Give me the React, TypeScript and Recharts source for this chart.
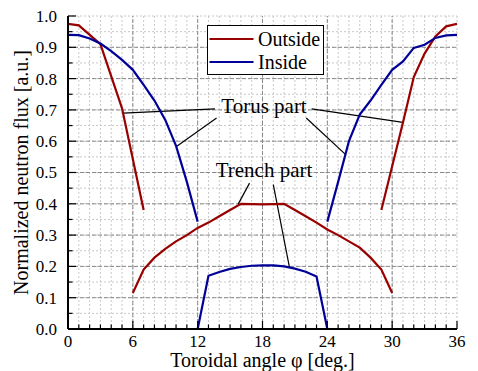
import React from 'react';
import { LineChart, Line, XAxis, YAxis, CartesianGrid, ReferenceLine } from 'recharts';

// angles in degrees, flux normalized
const outsideTorusLeftAngle = [0, 1, 3, 5, 7];
const outsideTorusLeftFlux = [0.975, 0.97, 0.91, 0.705, 0.38];
const outsideTorusRightAngle = [29, 31, 32, 33, 34, 35, 36];
const outsideTorusRightFlux = [0.38, 0.66, 0.805, 0.88, 0.935, 0.967, 0.975];
const outsideTrenchAngle = [6, 7, 8, 9, 10, 11, 12, 13, 14, 15, 16, 17, 18, 19, 20, 21, 22, 23, 24, 25, 26, 27, 28, 29, 30];
const outsideTrenchFlux = [0.115, 0.19, 0.228, 0.256, 0.28, 0.3, 0.323, 0.34, 0.36, 0.38, 0.4, 0.399, 0.398, 0.399, 0.4, 0.38, 0.36, 0.34, 0.318, 0.3, 0.28, 0.26, 0.228, 0.19, 0.115];

const insideTorusLeftAngle = [0, 1, 2, 3, 4, 5, 6, 7, 8, 9, 10, 11, 12];
const insideTorusLeftFlux = [0.94, 0.939, 0.928, 0.912, 0.888, 0.86, 0.828, 0.78, 0.73, 0.668, 0.585, 0.47, 0.343];
const insideTorusRightAngle = [24, 25, 26, 27, 28, 29, 30, 31, 32, 33, 34, 35, 36];
const insideTorusRightFlux = [0.343, 0.47, 0.6, 0.685, 0.73, 0.78, 0.828, 0.855, 0.898, 0.908, 0.93, 0.938, 0.94];
const insideTrenchAngle = [12, 13, 14, 15, 16, 17, 18, 19, 20, 21, 22, 23, 24];
const insideTrenchFlux = [0, 0.17, 0.182, 0.192, 0.198, 0.202, 0.203, 0.203, 0.2, 0.193, 0.183, 0.168, 0];

const xMajorTicks = [0, 6, 12, 18, 24, 30, 36];
const yMajorTicks = [0, 0.1, 0.2, 0.3, 0.4, 0.5, 0.6, 0.7, 0.8, 0.9, 1.0];
const xTicks = Array.from({ length: 37 }, (_, i) => i);
const yTicks = Array.from({ length: 21 }, (_, i) => i / 20);

const OUTSIDE = '#990000';
const INSIDE = '#000099';
const FONT = '"Liberation Serif", "Times New Roman", serif';

const toPoints = (xs: number[], ys: number[]) => xs.map((x, i) => ({ x, y: ys[i] }));

const isMajorX = (v: number) => v % 6 === 0;
const isMajorY = (v: number) => Math.round(v * 100) % 10 === 0;

const XTick = (props: any) => {
  const { x, y, payload, side } = props;
  const major = isMajorX(payload.value);
  const len = major ? 8 : 4.5;
  const dir = side === 'top' ? 1 : -1;
  return (
    <g>
      <line x1={x} x2={x} y1={y} y2={y + dir * len} stroke="#000" strokeWidth={1.2} />
      {side === 'bottom' && major && (
        <text x={x} y={y + 18} textAnchor="middle" fontSize={17} fontFamily={FONT} fill="#000">
          {payload.value}
        </text>
      )}
    </g>
  );
};

const YTick = (props: any) => {
  const { x, y, payload, side } = props;
  const major = isMajorY(payload.value);
  const len = major ? 8 : 4.5;
  const dir = side === 'left' ? 1 : -1;
  return (
    <g>
      <line x1={x} x2={x + dir * len} y1={y} y2={y} stroke="#000" strokeWidth={1.2} />
      {side === 'left' && major && (
        <text x={x - 11} y={y} dy="0.35em" textAnchor="end" fontSize={17} fontFamily={FONT} fill="#000">
          {payload.value.toFixed(1)}
        </text>
      )}
    </g>
  );
};

// leader lines from the labels to the curves
const leaders = [
  [{ x: 13.6, y: 0.703 }, { x: 5.1, y: 0.69 }],
  [{ x: 13.75, y: 0.674 }, { x: 10.04, y: 0.583 }],
  [{ x: 22.55, y: 0.703 }, { x: 31.0, y: 0.66 }],
  [{ x: 22.05, y: 0.674 }, { x: 25.7, y: 0.557 }],
  [{ x: 16.8, y: 0.466 }, { x: 15.75, y: 0.399 }],
  [{ x: 19.0, y: 0.461 }, { x: 20.5, y: 0.196 }],
];

const axisLine = { stroke: '#000', strokeWidth: 2 };

export default function App() {
  return (
    <div style={{ position: 'absolute', left: 0, top: 0, width: 478, height: 371, background: '#fff' }}>
      <LineChart width={478} height={371} margin={{ top: 16, right: 21, bottom: 12, left: 8 }}>
        <CartesianGrid stroke="#c8c8c8" strokeDasharray="2 2" />
        {xMajorTicks.slice(1, -1).map((v) => (
          <ReferenceLine key={'vx' + v} x={v} stroke="#8a8a8a" strokeDasharray="4 2" />
        ))}
        {yMajorTicks.slice(1, -1).map((v) => (
          <ReferenceLine key={'hy' + v} y={v} stroke="#8a8a8a" strokeDasharray="4 2" />
        ))}
        <XAxis
          type="number"
          dataKey="x"
          domain={[0, 36]}
          ticks={xTicks}
          interval={0}
          height={30}
          tickSize={0}
          tickMargin={0}
          tickLine={false}
          axisLine={axisLine}
          tick={<XTick side="bottom" />}
          allowDataOverflow
          label={{ value: 'Toroidal angle φ [deg.]', position: 'bottom', offset: -6, fontSize: 20, fontFamily: FONT, fill: '#000' }}
        />
        <XAxis
          xAxisId="top"
          orientation="top"
          type="number"
          dataKey="x"
          domain={[0, 36]}
          ticks={xTicks}
          interval={0}
          height={0}
          tickSize={0}
          tickMargin={0}
          tickLine={false}
          axisLine={axisLine}
          tick={<XTick side="top" />}
          allowDataOverflow
        />
        <YAxis
          type="number"
          domain={[0, 1]}
          ticks={yTicks}
          interval={0}
          width={60}
          tickSize={0}
          tickMargin={0}
          tickLine={false}
          axisLine={axisLine}
          tick={<YTick side="left" />}
          allowDataOverflow
          label={{
            value: 'Normalized neutron flux [a.u.]',
            angle: -90,
            position: 'insideLeft',
            offset: 13,
            style: { textAnchor: 'middle' },
            fontSize: 20,
            fontFamily: FONT,
            fill: '#000',
          }}
        />
        <YAxis
          yAxisId="right"
          orientation="right"
          type="number"
          domain={[0, 1]}
          ticks={yTicks}
          interval={0}
          width={0}
          tickSize={0}
          tickMargin={0}
          tickLine={false}
          axisLine={axisLine}
          tick={<YTick side="right" />}
          allowDataOverflow
        />
        {leaders.map((seg, i) => (
          <ReferenceLine key={'ld' + i} segment={seg} stroke="#000" strokeWidth={1.2} ifOverflow="visible" />
        ))}
        <Line data={toPoints(outsideTorusLeftAngle, outsideTorusLeftFlux)} dataKey="y" stroke={OUTSIDE} strokeWidth={2.2} dot={false} isAnimationActive={false} />
        <Line data={toPoints(outsideTorusRightAngle, outsideTorusRightFlux)} dataKey="y" stroke={OUTSIDE} strokeWidth={2.2} dot={false} isAnimationActive={false} />
        <Line data={toPoints(outsideTrenchAngle, outsideTrenchFlux)} dataKey="y" stroke={OUTSIDE} strokeWidth={2.2} dot={false} isAnimationActive={false} />
        <Line data={toPoints(insideTorusLeftAngle, insideTorusLeftFlux)} dataKey="y" stroke={INSIDE} strokeWidth={2.2} dot={false} isAnimationActive={false} />
        <Line data={toPoints(insideTorusRightAngle, insideTorusRightFlux)} dataKey="y" stroke={INSIDE} strokeWidth={2.2} dot={false} isAnimationActive={false} />
        <Line data={toPoints(insideTrenchAngle, insideTrenchFlux)} dataKey="y" stroke={INSIDE} strokeWidth={2.2} dot={false} isAnimationActive={false} />
      </LineChart>
      <svg width={478} height={371} style={{ position: 'absolute', left: 0, top: 0, pointerEvents: 'none' }}>
        <g fontFamily={FONT} fill="#000">
          <rect x={207.5} y={25.5} width={116} height={49} fill="#fff" stroke="#000" strokeWidth={1} />
          <line x1={209.5} x2={253.5} y1={39} y2={39} stroke={OUTSIDE} strokeWidth={2.2} />
          <line x1={209.5} x2={253.5} y1={62} y2={62} stroke={INSIDE} strokeWidth={2.2} />
          <text x={258} y={46} fontSize={20}>Outside</text>
          <text x={258} y={69} fontSize={20}>Inside</text>
          <text x={264} y={113} fontSize={21} textAnchor="middle">Torus part</text>
          <text x={264} y={177} fontSize={21} textAnchor="middle">Trench part</text>
        </g>
      </svg>
    </div>
  );
}
